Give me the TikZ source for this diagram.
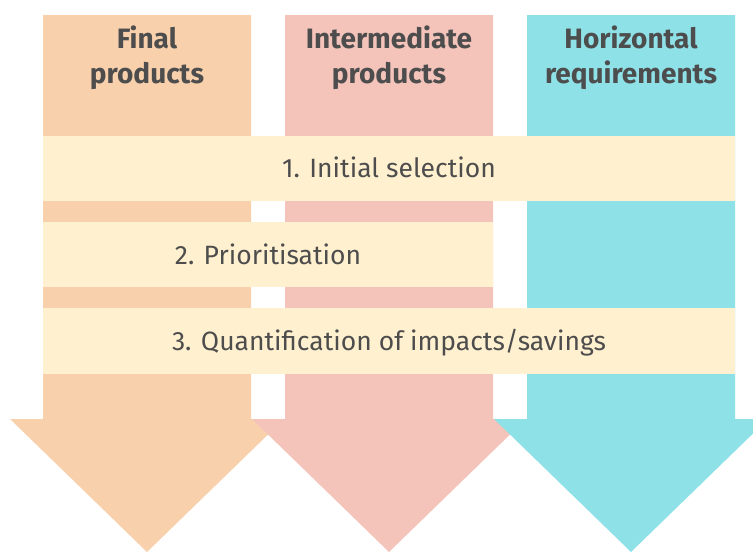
\documentclass[tikz,border=0pt]{standalone}
\usepackage{fontspec}
\setmainfont{Fira Sans}
\definecolor{finalc}{HTML}{F8D0AC}
\definecolor{interc}{HTML}{F4C4BB}
\definecolor{horizc}{HTML}{8FE1E8}
\definecolor{bandc}{HTML}{FFF0CF}
\definecolor{textc}{HTML}{4D4D4D}
\begin{document}
\begin{tikzpicture}[x=1pt, y=-1pt]
    \tikzstyle{band}=[fill=bandc, inner sep=0pt, text=textc, text height=19pt, text depth=0pt,
      font=\fontsize{26.5}{30}\selectfont]
    \tikzstyle{title}=[text=textc, inner sep=0pt, align=center, anchor=base,
      font=\fontsize{28}{35}\selectfont\bfseries]
    \useasboundingbox (0,0) rectangle (753,552);
    \clip (0,0) rectangle (753,552);
    % the three arrows, each drawn over the one on its left
    \foreach \cx/\col in {147/finalc, 389/interc, 631/horizc}
      \fill[\col] (\cx-104,15) -- (\cx+104,15) -- (\cx+104,419) -- (\cx+137,419)
        -- (\cx,552) -- (\cx-137,419) -- (\cx-104,419) -- cycle;
    \node[title] (final) at (147,83) {Final\\products};
    \node[title] (inter) at (389,83) {Intermediate\\products};
    \node[title] (horiz) at (631,83) {Horizontal\\requirements};
    % steps
    \node[band, minimum width=692, minimum height=65] (select) at (389,168) {1. Initial selection};
    \node[band, minimum width=450, minimum height=65] (prior) at (268,254.5) {2. Prioritisation};
    \node[band, minimum width=692, minimum height=66] (quant) at (389,341) {3. Quantification of impacts/savings};
  \end{tikzpicture}
\end{document}
